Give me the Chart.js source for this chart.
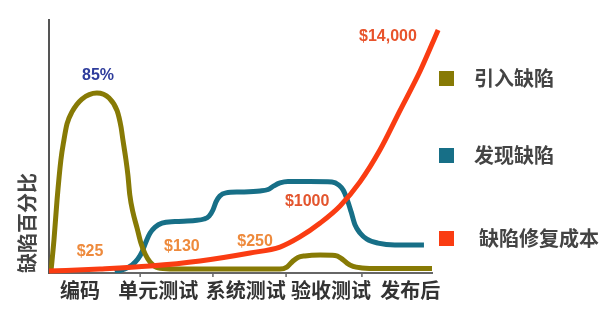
<!DOCTYPE html>
<html>
<head>
<meta charset="utf-8">
<script src="https://cdn.jsdelivr.net/npm/chart.js@4"></script>
<style>
  body { margin: 0; background: #fff; }
  #wrap { position: relative; width: 612px; height: 318px; }
  .key { position: absolute; font: bold 20px "Noto Sans CJK SC", sans-serif; color: #444; line-height: 20px; }
  .key i { position: absolute; width: 15px; height: 15px; }
</style>
</head>
<body>
<div id="wrap">
  <canvas id="chart" width="612" height="318"></canvas>
</div>
<script>
// stage names along the bottom, and where they sit on the 0..100 x scale
const stageLabels = ['编码', '单元测试', '系统测试', '验收测试', '发布后'];
const stagePos = [8.1, 28.5, 51.4, 73.6, 94.3];
const stageTicks = [23.8, 42.8, 61.9, 81.7];

const seriesNames = ['引入缺陷', '发现缺陷', '缺陷修复成本'];
const seriesColors = ['#877a05', '#176f87', '#fa3c12'];

// 引入缺陷 (introduced)
const introducedX = [0.5, 1.3, 2.1, 3.1, 3.9, 4.7, 6, 8.6, 12.5, 15.7, 17.8, 18.8, 19.3, 20.1, 20.6, 21.1, 21.9, 23, 24, 25.1, 26.4, 28.5, 31.6,
    60.3, 62.1, 63.7, 65, 66.8, 70.8, 74.7, 76.2, 77.8, 79.4, 81.7, 86.4, 100];
const introducedY = [0.5, 15.7, 34.6, 53.6, 63.1, 70.7, 76.4, 82.5, 85.4, 83, 76.9, 69.3, 63.1, 53.6, 46.5, 37, 28.9, 21.3, 14.2, 9, 5.2, 2.4, 1.9,
    1.9, 2.8, 5.7, 7.4, 8.1, 8.5, 8.3, 7.1, 4.7, 3.1, 2.4, 2.1, 2.1];

// 发现缺陷 (found)
const foundX = [17.2, 19.8, 21.7, 23.2, 24.3, 25.3, 26.4, 27.7, 29.5, 32.9, 38.1, 40.5, 41.8, 42.8, 43.6, 44.6, 46.2, 49.9, 55.1, 57.2, 58.7, 60.3,
    62.4, 68.1, 73.9, 75.7, 76.8, 77.8, 78.9, 79.9, 81.2, 83, 85.9, 90.3, 97.9];
const foundY = [0.5, 1.9, 3.8, 6.6, 10, 14.7, 19, 21.8, 23.7, 24.4, 24.9, 25.6, 27, 29.9, 33.7, 36.5, 38, 38.4, 38.9, 39.6, 41.3, 42.7,
    43.4, 43.4, 43.2, 41.7, 39.4, 35.1, 28.9, 22.8, 19, 16.1, 14.2, 13.3, 13.3];

// 缺陷修复成本 (fix cost)
const costX = [0, 13.3, 26.4, 39.4, 52.5, 60.3, 65.5, 70.8, 76, 81.2, 86.4, 91.6, 96.9, 101.6];
const costY = [0.9, 1.9, 3.3, 5.7, 9.5, 12.3, 17.1, 23.7, 31.8, 43.2, 58.3, 76.9, 95.8, 115.3];

// value labels written on the plot
const noteTexts = ['85%', '$14,000', '$25', '$130', '$250', '$1000'];
const noteX = [12.8, 88.5, 10.7, 34.7, 53.8, 67.4];
const noteY = [93.5, 112, 10, 12.3, 14.7, 33.7];
const noteColors = ['#2e3c9c', '#e8532c', '#ee8a3c', '#ee8a3c', '#ee8a3c', '#e3552e'];

function pts(xs, ys) {
    return xs.map(function (x, i) { return { x: x, y: ys[i] }; });
}

const notesPlugin = {
    id: 'notes',
    afterDatasetsDraw(chart) {
        const ctx = chart.ctx;
        const xs = chart.scales.x, ys = chart.scales.y;
        ctx.save();
        // little tick marks under the axis
        ctx.strokeStyle = '#666';
        ctx.lineWidth = 1.5;
        stageTicks.forEach(function (t) {
            const px = xs.getPixelForValue(t);
            ctx.beginPath();
            ctx.moveTo(px, ys.bottom);
            ctx.lineTo(px, ys.bottom + 4);
            ctx.stroke();
        });
        ctx.font = 'bold 16px Arial, "Liberation Sans", sans-serif';
        ctx.textAlign = 'center';
        ctx.textBaseline = 'middle';
        noteTexts.forEach(function (t, i) {
            ctx.fillStyle = noteColors[i];
            ctx.fillText(t, xs.getPixelForValue(noteX[i]), ys.getPixelForValue(noteY[i]));
        });
        ctx.restore();
    }
};

const ctx = document.getElementById('chart').getContext('2d');
const defectChart = new Chart(ctx, {
    type: 'line',
    data: {
        datasets: [{
            label: seriesNames[0],
            data: pts(introducedX, introducedY),
            borderColor: seriesColors[0],
            order: 1
        }, {
            label: seriesNames[1],
            data: pts(foundX, foundY),
            borderColor: seriesColors[1],
            order: 2
        }, {
            label: seriesNames[2],
            data: pts(costX, costY),
            borderColor: seriesColors[2],
            order: 0,
            clip: false
        }]
    },
    options: {
        responsive: false,
        animation: false,
        layout: { padding: { top: 20, right: 180, left: 0, bottom: 0 } },
        elements: {
            point: { radius: 0 },
            line: { borderWidth: 5, cubicInterpolationMode: 'monotone', fill: false, borderCapStyle: 'butt' }
        },
        plugins: {
            legend: { display: false },
            tooltip: { enabled: false }
        },
        scales: {
            x: {
                type: 'linear',
                min: 0,
                max: 100,
                afterBuildTicks: function (scale) {
                    scale.ticks = stagePos.map(function (v) { return { value: v }; });
                },
                afterFit: function (scale) { scale.height = 45; },
                ticks: {
                    autoSkip: false,
                    maxRotation: 0,
                    padding: 5,
                    color: '#333',
                    font: { family: '"Noto Sans CJK SC", sans-serif', size: 20, weight: 'bold' },
                    callback: function (value, index) { return stageLabels[index]; }
                },
                grid: { drawOnChartArea: false, drawTicks: false },
                border: { color: '#666', width: 2 }
            },
            y: {
                min: 0,
                max: 120,
                afterFit: function (scale) { scale.width = 49; },
                ticks: { display: false },
                grid: { drawOnChartArea: false, drawTicks: false },
                border: { color: '#555', width: 2 },
                title: {
                    display: true,
                    text: '缺陷百分比',
                    align: 'start',
                    color: '#444',
                    padding: { top: 15, bottom: 0 },
                    font: { family: '"Noto Sans CJK SC", sans-serif', size: 20, weight: 'bold' }
                }
            }
        }
    },
    plugins: [notesPlugin]
});

// legend on the right, spaced like the original slide
const keyTops = [68, 145, 228];
const keyLeft = [474, 474, 479];
const wrap = document.getElementById('wrap');
seriesNames.forEach(function (name, i) {
    const d = document.createElement('div');
    d.className = 'key';
    d.style.left = keyLeft[i] + 'px';
    d.style.top = keyTops[i] + 'px';
    d.textContent = name;
    const sq = document.createElement('i');
    sq.style.background = seriesColors[i];
    sq.style.left = (439 - keyLeft[i]) + 'px';
    sq.style.top = '3px';
    d.appendChild(sq);
    wrap.appendChild(d);
});
</script>
</body>
</html>
